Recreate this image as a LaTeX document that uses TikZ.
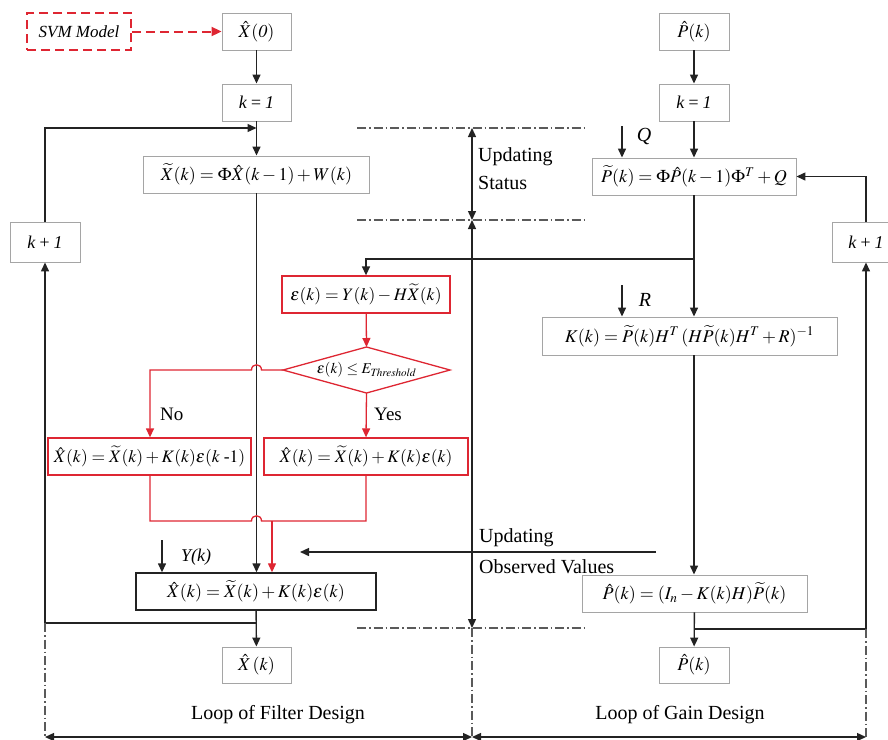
\documentclass[tikz,border=0pt]{standalone}
\usepackage{mathptmx}
\usepackage[no-math]{fontspec}
\setmainfont{Liberation Serif}
\usetikzlibrary{arrows.meta,calc}
\definecolor{myred}{RGB}{222,38,50}
\definecolor{boxgray}{RGB}{165,165,165}
\definecolor{linec}{RGB}{35,35,35}
\definecolor{dashc}{RGB}{90,90,90}
\tikzset{
  gbox/.style={draw=boxgray,line width=0.9pt,inner sep=0pt,minimum height=37pt,font=\fontsize{18}{20}\selectfont},
  rbox/.style={draw=myred,line width=1.3pt,inner sep=0pt,minimum height=37pt,font=\fontsize{17.5}{20}\selectfont},
  kbox/.style={draw=linec,line width=1.4pt,inner sep=0pt,minimum height=37pt,font=\fontsize{18}{20}\selectfont},
  arr/.style={draw=linec,line width=1.4pt,-{Triangle[length=9pt,width=8pt]}},
  darr/.style={draw=linec,line width=1.4pt,{Triangle[length=9pt,width=8pt]}-{Triangle[length=9pt,width=8pt]}},
  rln/.style={draw=myred,line width=1.3pt},
  rarr/.style={draw=myred,line width=1.3pt,-{Triangle[length=9pt,width=8pt]}},
  dashdot/.style={draw=dashc,line width=1.3pt,dash pattern=on 9pt off 3pt on 1.5pt off 3pt},
  lbl/.style={inner sep=0pt,font=\fontsize{20}{22}\selectfont},
  slbl/.style={inner sep=0pt,font=\fontsize{19}{21}\selectfont},
}
\begin{document}
\begin{tikzpicture}[x=1pt,y=-1pt]
\useasboundingbox (0,0) rectangle (888,739);
% ---- left column
\node[draw=myred,dash pattern=on 9pt off 5pt,line width=1.8pt,inner sep=0pt,minimum width=104pt,minimum height=37pt,font=\fontsize{17}{18}\selectfont\itshape] (svm) at (79,31.5) {SVM Model};
\node[gbox,minimum width=69pt] (x0) at (256.5,31.5) {$\hat{X}\mathit{(0)}$};
\node[gbox,minimum width=69pt] (k1L) at (256.5,102.5) {\textit{k\,=\,1}};
\node[gbox,minimum width=226pt] (xt) at (256.5,174.5) {$\widetilde{X}(k)=\Phi\hat{X}(k-1)+W(k)$};
\node[gbox,minimum width=70pt,minimum height=40pt] (kp1L) at (45,242) {\textit{k\,+\,1}};
\node[rbox,minimum width=168pt] (eps) at (366,294.5) {$\varepsilon(k)=Y(k)-H\widetilde{X}(k)$};
\node[inner sep=0pt,font=\fontsize{15}{17}\selectfont] (dia) at (366.5,370) {$\varepsilon(k)\le E_{\mathit{Threshold}}$};
\coordinate (diaL) at (283,370);
\coordinate (diaR) at (450,370);
\coordinate (diaT) at (366.5,347);
\coordinate (diaB) at (366.5,393);
\draw[draw=myred,line width=1.3pt] (diaL) -- (diaT) -- (diaR) -- (diaB) -- cycle;
\node[rbox,minimum width=203pt] (lb) at (149.5,456.5) {$\hat{X}(k)=\widetilde{X}(k)+K(k)\varepsilon(k\;\mbox{-}1)$};
\node[rbox,minimum width=204pt] (rb) at (366,456.5) {$\hat{X}(k)=\widetilde{X}(k)+K(k)\varepsilon(k)$};
\node[kbox,minimum width=240pt] (fin) at (256,591.5) {$\hat{X}(k)=\widetilde{X}(k)+K(k)\varepsilon(k)$};
\node[gbox,minimum width=69pt,minimum height=36pt] (outL) at (256.5,665) {$\hat{X}\,(k)$};
% ---- right column
\node[gbox,minimum width=70pt] (p0) at (694,31.5) {$\hat{P}(k)$};
\node[gbox,minimum width=70pt] (k1R) at (694,102.5) {\textit{k\,=\,1}};
\node[gbox,minimum width=204pt] (pt) at (694,176.5) {$\widetilde{P}(k)=\Phi\hat{P}(k-1)\Phi^{T}+Q$};
\node[gbox,minimum width=68pt,minimum height=40pt] (kp1R) at (866,242) {\textit{k\,+\,1}};
\node[gbox,minimum width=295pt,minimum height=38pt] (kk) at (689.5,336) {$K(k)=\widetilde{P}(k)H^{T}\,(H\widetilde{P}(k)H^{T}+R)^{-1}$};
\node[gbox,minimum width=225pt] (pu) at (694.5,593.5) {$\hat{P}(k)=(I_n-K(k)H)\widetilde{P}(k)$};
\node[gbox,minimum width=70pt,minimum height=36pt] (outR) at (694,665) {$\hat{P}(k)$};
% ---- labels
\node[slbl,anchor=west] (no) at (160,414) {No};
\node[slbl,anchor=west] (yes) at (374,414) {Yes};
\node[slbl,font=\fontsize{18}{20}\selectfont\itshape] (yk) at (196,557) {Y(k)};
\node[slbl,font=\fontsize{20}{22}\selectfont\itshape] (q) at (644,136) {Q};
\node[slbl,font=\fontsize{20}{22}\selectfont\itshape] (r) at (645,300) {R};
\node[lbl,anchor=west] (upd1) at (478,157) {Updating};
\node[lbl,anchor=west] (upd2) at (478,183) {Status};
\node[lbl,anchor=west] (obs1) at (479,538) {Updating};
\node[lbl,anchor=west] (obs2) at (479,567) {Observed Values};
\node[lbl] (loopF) at (278,715) {Loop of Filter Design};
\node[lbl] (loopG) at (680,715) {Loop of Gain Design};
% ---- coordinates
\coordinate (jL) at (256.5,128);
\coordinate (splitL) at (256.5,623);
\coordinate (pb) at (694,259);
\coordinate (splitR) at (694,629);
\coordinate (red1) at (150,521);
\coordinate (red2) at (366,521);
\coordinate (redA) at (272,521);
\coordinate (ytop) at (162,540);
\coordinate (qtop) at (622,126);
\coordinate (rtop) at (622,285);
\coordinate (obsS) at (656,552);
\coordinate (obsE) at (300,552);
\coordinate (m1) at (472,128);
\coordinate (m2) at (472,220);
\coordinate (m3) at (472,628);
\coordinate (m4) at (472,737);
\coordinate (bl) at (45,737);
\coordinate (br) at (866,737);
\coordinate (bl0) at (45,623);
\coordinate (br0) at (866,629);
% ---- connectors
\draw[draw=myred,line width=2pt,dash pattern=on 9pt off 5pt,-{Triangle[length=10pt,width=9pt]}] (svm.east) -- (x0.west);
\draw[arr] (x0) -- (k1L);
\draw[arr] (k1L) -- (xt);
\draw[arr] (kp1L.north) |- (jL);
\draw[arr] (xt.south) -- (xt.south |- fin.north);
\draw[arr] (splitL) -| (kp1L.south);
\draw[arr] (fin) -- (outL);
\draw[arr] (ytop) -- (ytop |- fin.north);
\draw[arr] (obsS) -- (obsE);
% red flow
\draw[rarr] (eps) -- (diaT);
\draw[rarr] (diaL) -- (261.5,370) .. controls (261.5,363) and (251.5,363) .. (251.5,370) -- (150,370) -- (red1 |- lb.north);
\draw[rarr] (diaB) -- (rb.north);
\draw[rln] (lb.south -| red1) -- (red1) -- (251.5,521) .. controls (251.5,514) and (261.5,514) .. (261.5,521) -- (red2) -- (rb.south);
\draw[rarr] (redA) -- (redA |- fin.north);
% right column
\draw[arr] (p0) -- (k1R);
\draw[arr] (k1R) -- (pt);
\draw[arr] (qtop) -- (qtop |- pt.north);
\draw[arr] (pt.south) -- (pt.south |- kk.north);
\draw[arr] (pb) -| (eps.north);
\draw[arr] (rtop) -- (rtop |- kk.north);
\draw[arr] (pt.south |- kk.south) -- (pt.south |- pu.north);
\draw[arr] (pu) -- (outR);
\draw[arr] (splitR) -| (kp1R.south);
\draw[arr] (kp1R.north) |- (pt.east);
% middle scale
\draw[dashdot] (357,128) -- (588,128);
\draw[dashdot] (357,220) -- (588,220);
\draw[dashdot] (357,628) -- (588,628);
\draw[darr] (m1) -- (m2);
\draw[darr] (m2) -- (m3);
\draw[dashdot] (m3) -- (m4);
\draw[dashdot] (bl0) -- (bl);
\draw[dashdot] (br0) -- (br);
\draw[darr] (bl) -- (m4);
\draw[darr] (m4) -- (br);
\end{tikzpicture}
\end{document}
